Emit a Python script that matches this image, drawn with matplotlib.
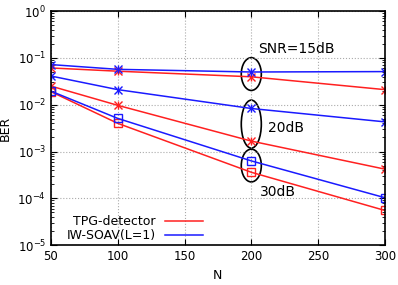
import matplotlib
matplotlib.use("Agg")
import matplotlib.pyplot as plt
from matplotlib.patches import Ellipse
from matplotlib.lines import Line2D

N = [50, 100, 200, 300]

# TPG-detector (red)
tpg_15 = [0.061, 0.052, 0.0395, 0.021]
tpg_20 = [0.025, 0.0097, 0.00167, 0.00042]
tpg_30 = [0.019, 0.0040, 0.00036, 0.000055]

# IW-SOAV(L=1) (blue)
iw_15 = [0.072, 0.057, 0.050, 0.051]
iw_20 = [0.041, 0.021, 0.0083, 0.0043]
iw_30 = [0.0195, 0.0051, 0.00063, 0.000103]

red = '#ff2020'
blue = '#1a1aff'

fig = plt.figure(figsize=(3.98, 2.85), dpi=100)
ax = fig.add_axes([0.128, 0.14, 0.839, 0.821])

ax.plot(N, tpg_15, color=red, marker='x', ms=6, lw=1.1)
ax.plot(N, tpg_20, color=red, marker='x', ms=6, lw=1.1)
ax.plot(N, tpg_30, color=red, marker='s', ms=6, mfc='none', lw=1.1)
ax.plot(N, iw_15, color=blue, marker='x', ms=6, lw=1.1)
ax.plot(N, iw_20, color=blue, marker='x', ms=6, lw=1.1)
ax.plot(N, iw_30, color=blue, marker='s', ms=6, mfc='none', lw=1.1)
# star look: add '|' on top of x for the first two groups
for s, c in [(tpg_15, red), (tpg_20, red), (iw_15, blue), (iw_20, blue)]:
    ax.plot(N, s, color=c, marker='|', ms=6, lw=0)

ax.set_yscale('log')
ax.set_xlim(50, 300)
ax.set_ylim(1e-5, 1)
ax.set_xticks([50, 100, 150, 200, 250, 300])
ax.grid(True, which='major', ls=':', color='#aaaaaa', lw=0.8)
ax.tick_params(which='both', direction='in', top=True, right=True, labelsize=8.5)
ax.tick_params(which='major', length=4)
ax.tick_params(which='minor', length=2)
for sp in ax.spines.values():
    sp.set_linewidth(1.2)

ax.set_xlabel('N', fontsize=9)
ax.set_ylabel('BER', fontsize=9)

# ellipses around N=200
ax.add_patch(Ellipse((0.6, 0.731), 0.06, 0.14, transform=ax.transAxes,
                     fill=False, ec='black', lw=1.2))
ax.add_patch(Ellipse((0.6, 0.517), 0.06, 0.205, transform=ax.transAxes,
                     fill=False, ec='black', lw=1.2))
ax.add_patch(Ellipse((0.6, 0.34), 0.06, 0.14, transform=ax.transAxes,
                     fill=False, ec='black', lw=1.2))
ax.text(0.62, 0.838, 'SNR=15dB', transform=ax.transAxes, fontsize=10,
        va='center', ha='left')
ax.text(0.65, 0.5, '20dB', transform=ax.transAxes, fontsize=10,
        va='center', ha='left')
ax.text(0.626, 0.226, '30dB', transform=ax.transAxes, fontsize=10,
        va='center', ha='left')

handles = [Line2D([], [], color=red, lw=1.1), Line2D([], [], color=blue, lw=1.1)]
ax.legend(handles, ['TPG-detector', 'IW-SOAV(L=1)'], loc='lower left',
          bbox_to_anchor=(0.02, -0.025), frameon=False, markerfirst=False,
          fontsize=9, handlelength=3.0, labelspacing=0.1, borderaxespad=0.3)

plt.savefig('out.png', dpi=100)
